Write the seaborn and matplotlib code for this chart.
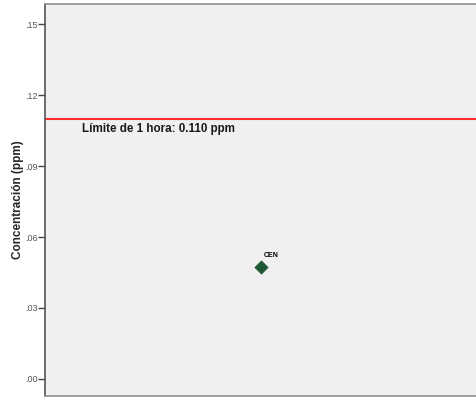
import matplotlib
matplotlib.use("Agg")
import matplotlib.pyplot as plt
import seaborn as sns
import pandas as pd

stations = ["CEN"]
concentrations = [0.0473]
limit_value = 0.110
limit_label = "Límite de 1 hora: 0.110 ppm"
yticks = [0.00, 0.03, 0.06, 0.09, 0.12, 0.15]
ytick_labels = [".00", ".03", ".06", ".09", ".12", ".15"]

sns.set_theme(style="white")
plt.rcParams['font.family'] = ['Liberation Sans', 'DejaVu Sans']

df = pd.DataFrame({"pos": [1.0] * len(stations), "conc": concentrations, "station": stations})

fig = plt.figure(figsize=(4.77, 3.98), dpi=100)
ax = fig.add_axes([45 / 477, 2 / 398, 1 - 45 / 477 + 0.01, 392 / 398])
ax.set_facecolor("#f0f0f0")

sns.scatterplot(data=df, x="pos", y="conc", marker="D", s=45, color="#1e5631",
                edgecolor="#1e5631", ax=ax, legend=False, zorder=3)

for x, y, s in zip(df["pos"], df["conc"], df["station"]):
    ax.annotate(s, (x, y), xytext=(2, 7), textcoords="offset points",
                fontsize=5, fontweight="bold", color="black")

ax.axhline(limit_value, color="#ff2a2a", lw=1.5, zorder=2)
ax.text(0.085, limit_value - 0.0045, limit_label, transform=ax.get_yaxis_transform(),
        fontsize=8.4, fontweight="bold", color="#1a1a1a", va="center", ha="left")

ax.set_xlim(0.0, 2.02)
ax.set_ylim(-0.0072, 0.1585)
ax.set_yticks(yticks)
ax.set_yticklabels(ytick_labels, fontsize=6.5, color="#555555")
ax.set_xticks([])
ax.set_xlabel("")
ax.set_ylabel("Concentración (ppm)", fontsize=8.5, fontweight="bold", labelpad=1)
ax.tick_params(axis="y", length=5, width=1, color="#444444", pad=0, left=True)

for side in ["top", "bottom", "left"]:
    ax.spines[side].set_visible(True)
    ax.spines[side].set_color("#909090")
    ax.spines[side].set_linewidth(1.2)
ax.spines["left"].set_color("#555555")
ax.spines["right"].set_visible(False)

fig.savefig("out.png", dpi=100)
